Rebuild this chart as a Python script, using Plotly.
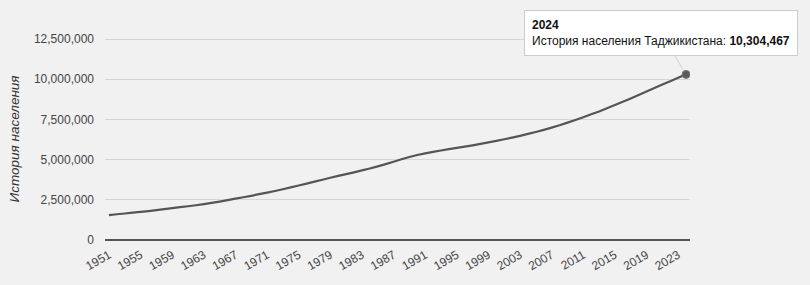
import plotly.graph_objects as go

years = list(range(1951, 2025))
population = [
    1550000, 1600000, 1650000, 1700000, 1750000, 1800000, 1860000, 1920000, 1980000, 2040000,
    2100000, 2160000, 2230000, 2310000, 2390000, 2480000, 2570000, 2660000, 2750000, 2850000,
    2950000, 3050000, 3160000, 3270000, 3390000, 3510000, 3630000, 3750000, 3870000, 3990000,
    4100000, 4210000, 4330000, 4450000, 4580000, 4720000, 4870000, 5020000, 5160000, 5290000,
    5390000, 5480000, 5570000, 5650000, 5730000, 5810000, 5890000, 5980000, 6070000, 6170000,
    6270000, 6370000, 6480000, 6600000, 6720000, 6850000, 6990000, 7140000, 7300000, 7470000,
    7640000, 7820000, 8000000, 8200000, 8400000, 8600000, 8810000, 9020000, 9240000, 9450000,
    9670000, 9880000, 10090000, 10304467,
]
x_ticks = list(range(1951, 2024, 4))
y_ticks = [0, 2500000, 5000000, 7500000, 10000000, 12500000]
series_name = "История населения Таджикистана"
axis_title = "История населения"

font_family = "Liberation Sans, Arial, sans-serif"
bg = "#f1f1f1"

fig = go.Figure()
fig.add_trace(go.Scatter(
    x=years, y=population, mode="lines",
    line=dict(color="#555555", width=2.2, simplify=False),
    hoverinfo="skip", showlegend=False,
))
fig.add_trace(go.Scatter(
    x=[years[-1]], y=[population[-1]], mode="markers",
    marker=dict(color="#5a5a5a", size=8, line=dict(color="#777", width=1)),
    hoverinfo="skip", showlegend=False,
))

fig.add_annotation(
    x=years[-1], y=population[-1], xref="x", yref="y",
    text=f"<b>{years[-1]}</b><br>{series_name}: <b>{population[-1]:,}</b>",
    showarrow=True, arrowhead=0, arrowwidth=1, arrowcolor="#d0d0d0",
    ax=-25, ay=-41, standoff=6,
    align="left", bgcolor="#ffffff", bordercolor="#cccccc", borderwidth=1, borderpad=7,
    font=dict(family=font_family, size=12, color="#111"),
)
fig.add_annotation(
    xref="paper", yref="paper", x=-0.154, y=0.459,
    xanchor="center", yanchor="middle",
    text=f"<i>{axis_title}</i>", textangle=-90, showarrow=False,
    font=dict(family=font_family, size=13.5, color="#333"),
)

fig.update_layout(
    width=810, height=285,
    margin=dict(l=105, r=120, t=19, b=45),
    paper_bgcolor=bg, plot_bgcolor=bg,
    font=dict(family=font_family, size=12, color="#444"),
    xaxis=dict(
        range=[1950.5, 2024.5], tickmode="array", tickvals=x_ticks,
        ticktext=[str(t) for t in x_ticks], tickangle=-30,
        showgrid=False, zeroline=False, showline=False, ticks="",
        ticklabelstandoff=5,
        tickfont=dict(size=12, color="#444"), automargin=False,
    ),
    yaxis=dict(
        range=[0, 13750000], tickmode="array", tickvals=y_ticks,
        tickformat=",", gridcolor="#d6d6d6", gridwidth=1,
        zeroline=True, zerolinecolor="#555", zerolinewidth=2,
        showline=False, ticks="", ticklabelstandoff=10,
        tickfont=dict(size=12, color="#444"), automargin=False,
    ),
)

fig.write_html(
    "out.html",
    config={"displayModeBar": False},
    post_script="document.body.style.margin='0';document.body.style.background='#f1f1f1';",
)
